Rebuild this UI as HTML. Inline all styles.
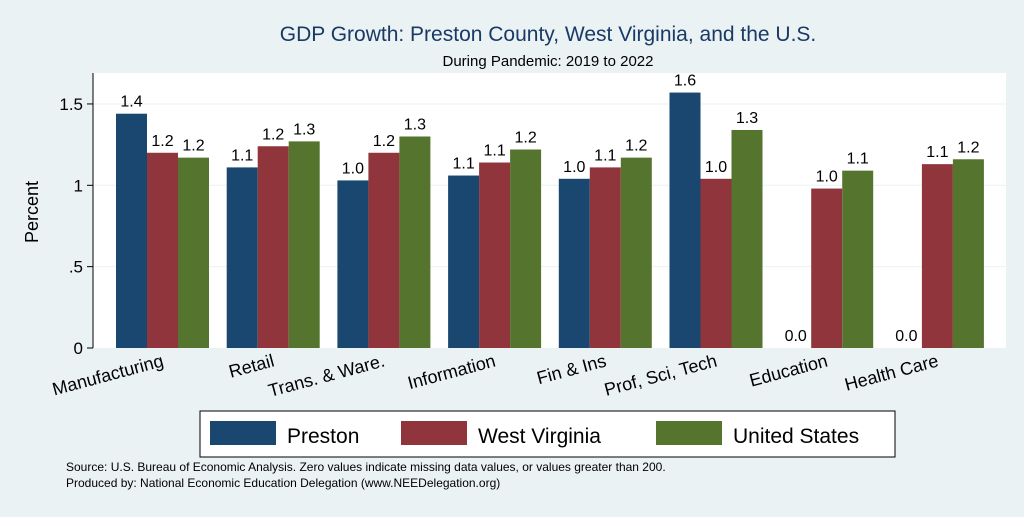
<!DOCTYPE html>
<html><head><meta charset="utf-8"><style>
body{margin:0;background:#eaf2f3;font-family:"Liberation Sans",sans-serif;}
svg text{font-family:"Liberation Sans",sans-serif;}
</style></head><body>
<svg id="c" width="1024" height="512" viewBox="0 0 1024 512">
<rect x="0" y="0" width="1024" height="512" fill="#eaf2f3"/>
<text x="548" y="41" font-size="21" fill="#1a3a66" text-anchor="middle">GDP Growth: Preston County, West Virginia, and the U.S.</text>
<text x="548" y="66" font-size="15" fill="#000" text-anchor="middle">During Pandemic: 2019 to 2022</text>
<rect x="93" y="73" width="913" height="275" fill="#fff"/>
<g id="grid"></g>
<g id="bars"></g>
<line x1="93" y1="73" x2="93" y2="348" stroke="#000"/>
<text transform="translate(38,212) rotate(-90)" font-size="18" text-anchor="middle">Percent</text>
<g id="legend">
<rect x="200" y="411" width="695" height="46" fill="#fff" stroke="#000"/>
<rect x="210" y="421" width="66" height="24" fill="#1a476f"/>
<text x="287" y="443" font-size="21">Preston</text>
<rect x="401" y="421" width="66" height="24" fill="#90353b"/>
<text x="478" y="443" font-size="21">West Virginia</text>
<rect x="656" y="421" width="66" height="24" fill="#55752f"/>
<text x="733" y="443" font-size="21">United States</text>
</g>
<text x="66" y="471" font-size="12">Source: U.S. Bureau of Economic Analysis. Zero values indicate missing data values, or values greater than 200.</text>
<text x="66" y="487" font-size="12">Produced by: National Economic Education Delegation (www.NEEDelegation.org)</text>
</svg>
<script>
const categories=["Manufacturing","Retail","Trans. & Ware.","Information","Fin & Ins","Prof, Sci, Tech","Education","Health Care"];
const preston=[1.44,1.11,1.03,1.06,1.04,1.57,0,0];
const westVirginia=[1.20,1.24,1.20,1.14,1.11,1.04,0.98,1.13];
const unitedStates=[1.17,1.27,1.30,1.22,1.17,1.34,1.09,1.16];
const yTicks=[0,0.5,1,1.5];
const yTickLabels=["0",".5","1","1.5"];
const seriesNames=["preston","west-virginia","united-states"];
const colors=["#1a476f","#90353b","#55752f"];
const NS="http://www.w3.org/2000/svg";
const y=v=>348-v*162.7;
const groupX=i=>116+i*110.7;
const barW=31;
function mk(t,a,p){const e=document.createElementNS(NS,t);for(const k in a)e.setAttribute(k,a[k]);p.appendChild(e);return e;}
const grid=document.getElementById('grid'),bars=document.getElementById('bars');
yTicks.forEach((t,i)=>{
 const yy=y(t);
 if(t>0){const g=mk('line',{x1:93,x2:1006,y1:yy,y2:yy,stroke:'#eaf2f3','stroke-width':1},grid);
 
 }
 const tk=mk('line',{x1:87,x2:93,y1:yy,y2:yy,stroke:'#000'},grid);
 
 
 const tx=mk('text',{x:83,y:yy+6,'font-size':17,'text-anchor':'end'},grid);
 tx.textContent=yTickLabels[i];
 
 
});
const series=[preston,westVirginia,unitedStates];
categories.forEach((c,i)=>{
 series.forEach((s,j)=>{
  const x=groupX(i)+j*barW,v=s[i];
  const r=mk('rect',{x:x,y:y(v),width:barW,height:348-y(v),fill:colors[j]},bars);
  
  
  const t=mk('text',{x:x+barW/2,y:y(v)-7,'font-size':16,'text-anchor':'middle'},bars);
  t.textContent=v.toFixed(1);
  
  
 });
 const cx=groupX(i)+1.5*barW+2;
 const lb=mk('text',{transform:`translate(${cx},${366}) rotate(-15)`,'font-size':18,'text-anchor':'end'},bars);
 lb.textContent=c;
 
 
});
</script>
</body></html>
